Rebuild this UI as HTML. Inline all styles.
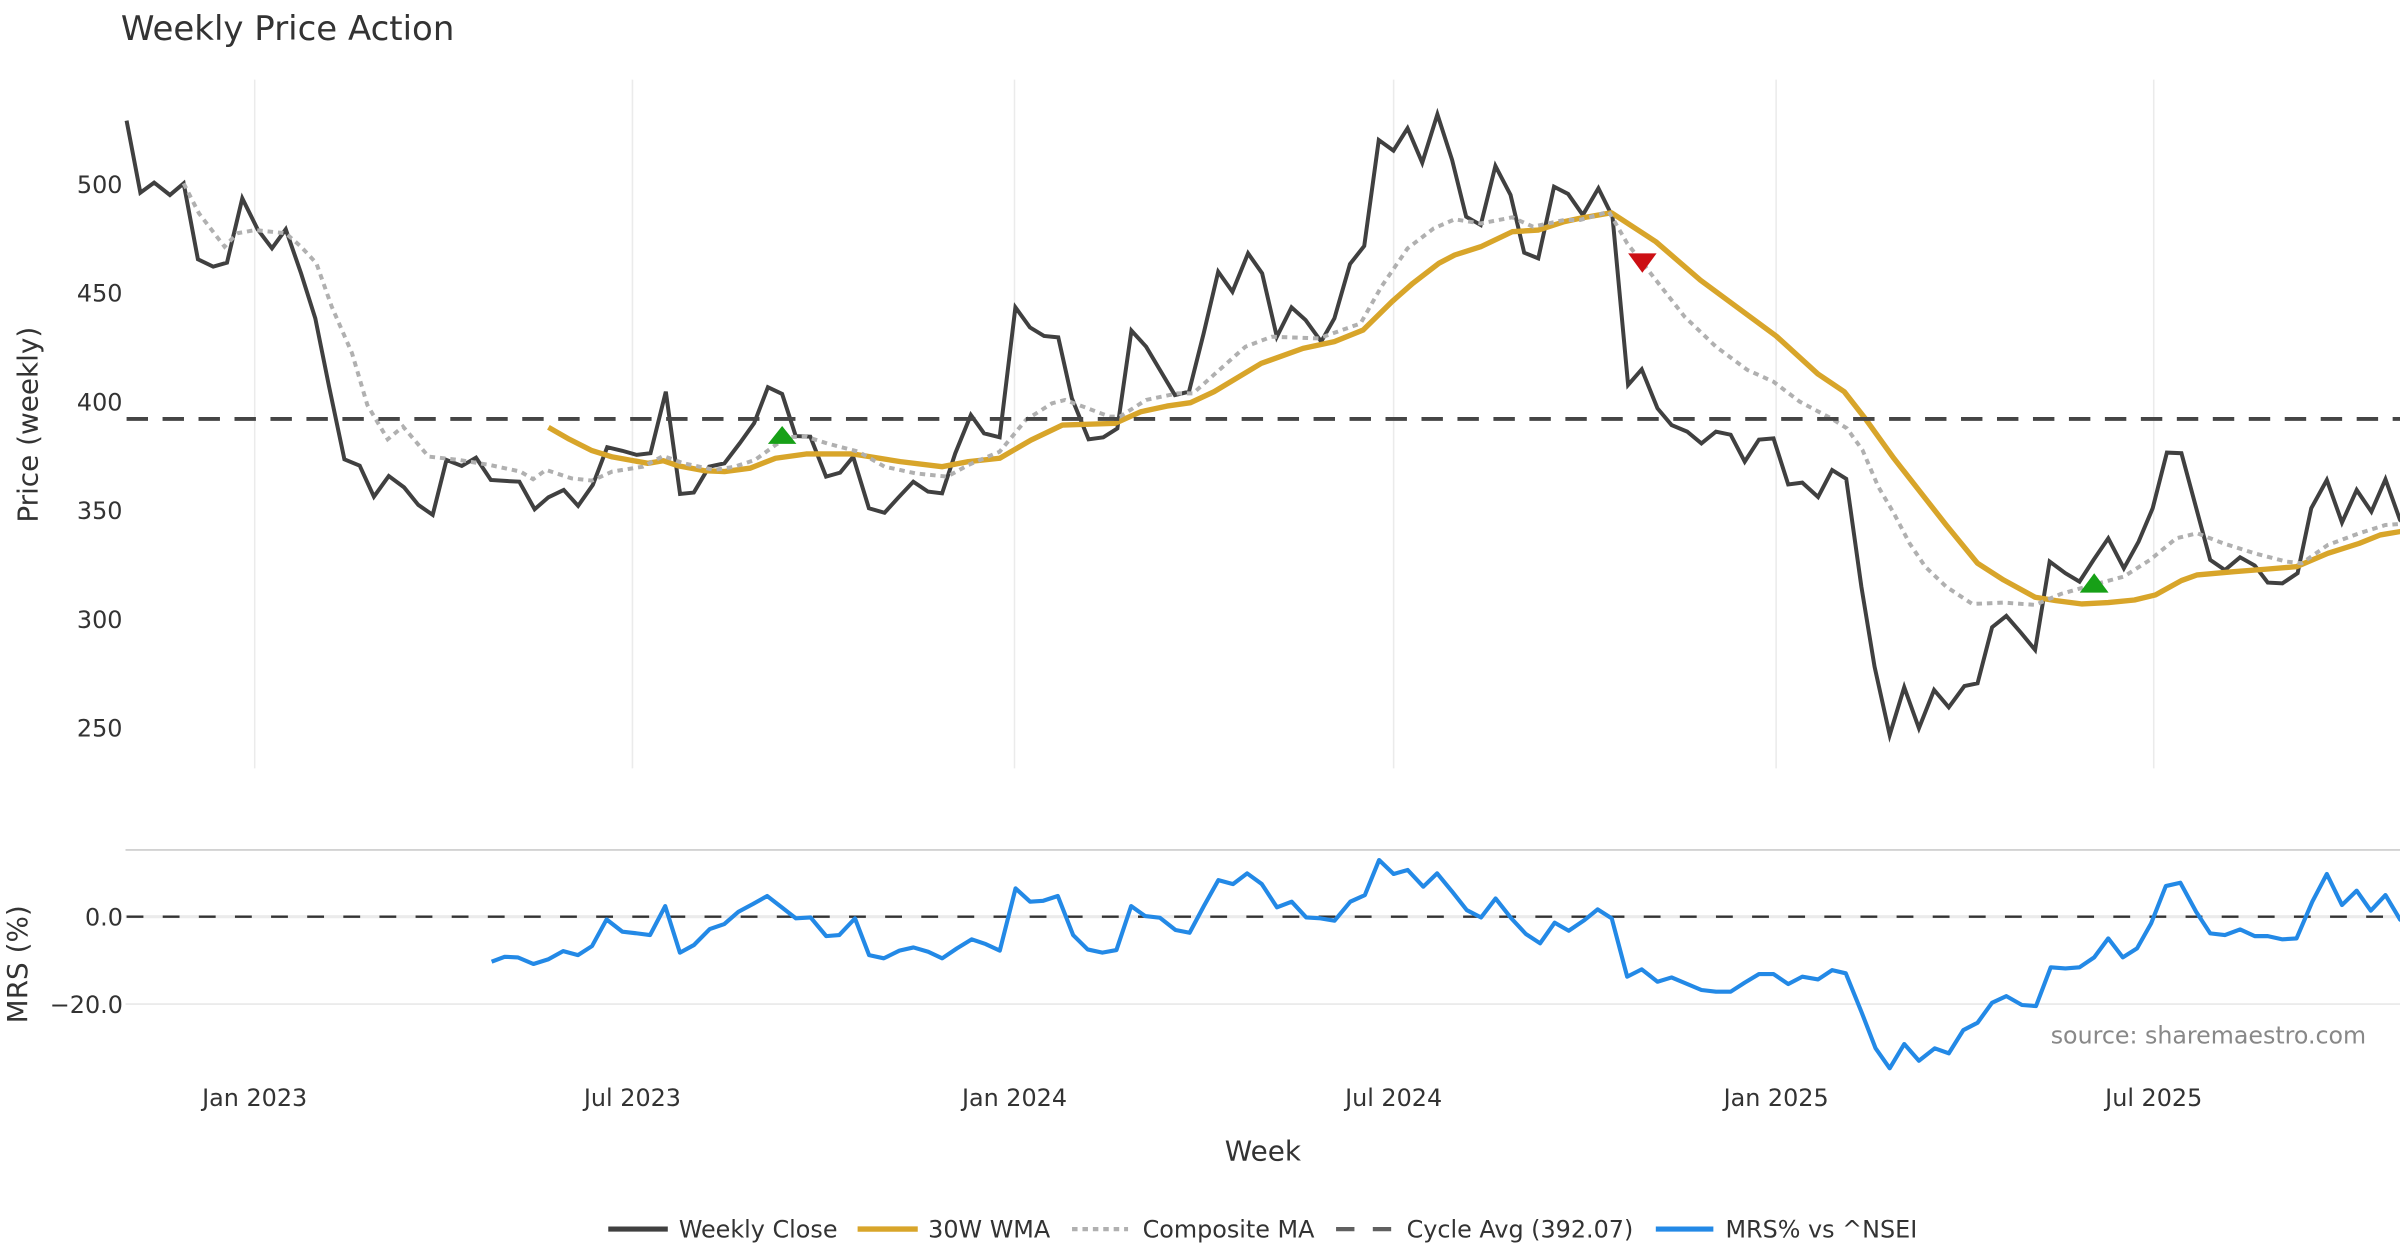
<!DOCTYPE html>
<html><head><meta charset="utf-8"><style>html,body{margin:0;padding:0;background:#fff;}svg{display:block}</style></head>
<body>
<svg width="2400" height="1260" viewBox="0 0 1568 823.2" xmlns="http://www.w3.org/2000/svg" font-family="'DejaVu Sans','Liberation Sans',sans-serif">
<rect x="0" y="0" width="1568" height="823.2" fill="#fff"/>
<!-- title -->
<text x="79" y="26.1" font-size="22.2" fill="#333">Weekly Price Action</text>
<!-- upper grid -->
<g stroke="#ebebeb" stroke-width="1">
<line x1="166.4" y1="52" x2="166.4" y2="502"/>
<line x1="413.2" y1="52" x2="413.2" y2="502"/>
<line x1="662.8" y1="52" x2="662.8" y2="502"/>
<line x1="910.5" y1="52" x2="910.5" y2="502"/>
<line x1="1160.4" y1="52" x2="1160.4" y2="502"/>
<line x1="1407.1" y1="52" x2="1407.1" y2="502"/>
</g>
<!-- y ticks upper -->
<g font-size="15.6" fill="#333" text-anchor="end">
<text x="80" y="126.1">500</text>
<text x="80" y="197.1">450</text>
<text x="80" y="268.1">400</text>
<text x="80" y="339.2">350</text>
<text x="80" y="410.2">300</text>
<text x="80" y="481.2">250</text>
</g>
<text transform="translate(24.5,277.5) rotate(-90)" font-size="18.2" fill="#333" text-anchor="middle">Price (weekly)</text>

<!-- Weekly close -->
<polyline fill="none" stroke="#404040" stroke-width="2.6" stroke-linejoin="miter" points="82.7,78.8 91.7,125.9 100.7,119.3 111,127.4 120,119.8 129.3,169.4 139.3,174.2 148.3,171.6 158.3,129.6 168.3,149.8 177.7,162.2 186.7,149.8 196.7,178.6 206,208 215,252.6 225,300.1 235,304.2 244.3,324.5 254,311 264,318.4 273.3,329.9 282.7,336.4 291.7,300.5 301.7,304.4 311,299 320.7,313.6 330,314.2 339.3,314.7 349.3,332.7 358.3,324.9 368.3,320.1 377.7,330.5 387.3,316.8 396.7,292.2 406.5,294.5 416,297.2 425,296.1 435,255.9 444.3,322.7 453.3,321.8 463.3,304.9 473.3,302.7 483.3,289.6 492.7,276.5 501.7,253 511,257.4 519.9,284.9 529.4,285.3 539.7,311.4 548.9,308.8 557.4,298.4 567.7,332.1 577.9,335 587,325 596.7,314.7 606.3,321.2 615.5,322.3 624.1,296.2 634.3,271.1 642.9,283.1 653.1,285.7 663.4,200.8 672.9,213.9 682.1,219.5 691.4,220.4 700.3,260.2 711.2,287 720.8,285.7 730,279.9 739.2,216 748.8,226.5 758,242 767.6,258.1 776.8,255.9 786.4,217.8 795.9,177.5 805.2,190.6 815.4,165.5 824.6,178.6 834.2,220 843.8,200.8 853,209.1 863.2,223.2 871.8,208 882,172.5 891.3,160.7 900.8,91.5 910.4,98.4 919.6,83.8 929.2,106.3 939.1,74.7 948.7,104.5 957.9,141.6 967.4,147 977,108.4 986.9,127.4 995.8,165.1 1005,168.8 1015.3,122 1024.5,126.7 1034.1,140.5 1044.3,123 1053.5,141.6 1063.7,251.5 1072.6,241.3 1082.9,266.8 1092.1,277.7 1102.3,282 1111.6,289.7 1121.1,282 1130.7,284 1139.9,301.6 1149.2,287.2 1158.7,286.4 1168.3,316.5 1177.5,315.3 1187.8,324.7 1197,307.1 1206.2,312.8 1216.1,383.3 1224.7,435.5 1234.6,480.2 1244.1,449 1253.7,475.8 1263.6,450.8 1273.2,462.1 1283.4,448.2 1292,446.4 1301.5,409.8 1310.8,402.4 1320.3,413.3 1329.6,424.6 1339.1,366.9 1349.4,374.5 1358.6,380 1367.8,365.8 1377.4,351.7 1387.6,371.3 1397.2,353.9 1406.4,332.1 1415.7,295.7 1425.2,296.1 1435.5,334.3 1444,365.8 1453.6,372.4 1463.5,364.1 1473.1,369.5 1481.6,380.6 1491.2,381.1 1501.1,374.5 1510,332.1 1520.2,313.6 1530.1,341.4 1539.7,320.1 1549.3,334.3 1558.5,313.1 1568,339.7 1575,345"/>

<!-- 30W WMA -->
<polyline fill="none" stroke="#d8a52a" stroke-width="3.5" stroke-linejoin="round" points="358.3,279.2 372,287 386.7,294.4 400,298.5 423.3,302.7 433.3,301 443.3,304.4 460,307.5 473.3,308.1 490,305.9 506.7,299.4 526.7,296.6 557.4,296.6 588.2,301.6 615.5,304.9 632.6,301.6 653.1,299.4 673.6,287.5 694.1,277.7 728.3,276.6 745.4,269 762.4,265.3 777.8,263.1 793.2,255.9 824,237.4 851.3,227.6 871.8,223.2 890.6,215.6 909.4,197.1 923,185.1 940.1,172 950.4,166.6 967.4,161.2 988,151.4 1005,150.3 1022.1,144.8 1032.3,142.6 1052.8,139 1081.8,157.9 1110.9,183 1160.4,219.5 1187.8,244.4 1204.9,255.9 1218.5,273.3 1237.3,299.4 1254.4,321.2 1271.5,343 1292,368 1309,378.9 1329.6,390.2 1343.2,392.4 1360.3,394.6 1377.4,393.7 1394.5,392 1408.2,388.7 1425.2,379.3 1435.5,375.6 1459.4,373.5 1479.9,371.9 1500.4,370.2 1520.9,361.5 1541.4,355 1555.1,349.5 1568,347.3 1575,346"/>

<!-- Composite MA -->
<polyline fill="none" stroke="#b0b0b0" stroke-width="2.6" stroke-dasharray="3.6 3.2" points="120,119.8 130,139.4 146.7,161.2 155,152.4 166.7,150.3 186.7,152.4 196.7,161.2 206.7,172 216.7,200.3 230,230.8 240,264.6 253.3,287 263.3,278.7 280,298.3 300,300.5 320,303.8 340,308.1 348.3,313.1 356.7,307 373.3,312.5 386.7,314 400,308.1 420,304.9 433.3,297.9 446.7,302.7 466.7,307 480,304.9 493.3,300.5 506.7,290.7 515,285.5 526.7,285.3 540.4,289.7 560.9,295.1 577.9,304.9 598.4,309.3 618.9,311.4 632.6,303.8 653.1,295.1 670.2,274.4 687.3,263.5 695.8,261.3 707.8,265.7 724.9,272.2 731.7,272.2 748.8,261.3 769.3,257 779.5,257 796.6,241.7 813.7,226.5 830.8,220 861.5,221.1 888.9,211.3 902.5,187.3 919.6,162.3 936.7,149.2 950.4,143.3 967.4,146 988,142 1001.6,148.1 1022.1,143.7 1032.3,143.7 1051.1,138.3 1063.1,159 1076.7,176.4 1100.6,206.9 1121.1,226.5 1141.6,241.7 1158.7,249.4 1175.8,262.4 1196.3,273.3 1206.6,279.8 1216.8,294 1227.1,317.9 1237.3,335.3 1247.6,355 1257.8,370.2 1271.5,383.3 1288.6,394.6 1309,393.7 1329.6,395.2 1346.6,388 1367.1,382.2 1387.6,376.7 1404.7,365.8 1421.8,351.7 1435.5,348.4 1452.6,355 1473.1,361.5 1493.6,366.9 1503.8,368 1520.9,356 1541.4,348.4 1558.5,343 1568,342.3"/>

<!-- Cycle avg -->
<line x1="82.7" y1="273.7" x2="1568" y2="273.7" stroke="#454545" stroke-width="2.6" stroke-dasharray="14 9.5"/>

<!-- markers -->
<polygon points="511,278.3 520.3,290 501.7,290" fill="#17a017"/>
<polygon points="1368.2,374.5 1377.6,387.2 1358.8,387.2" fill="#17a017"/>
<polygon points="1063.7,165.5 1082.3,165.5 1073,178.2" fill="#cc0f14"/>

<!-- lower panel -->
<line x1="82" y1="555.3" x2="1568" y2="555.3" stroke="#cccccc" stroke-width="1"/>
<line x1="82" y1="598.9" x2="1568" y2="598.9" stroke="#ebebeb" stroke-width="2"/>
<line x1="82" y1="656" x2="1568" y2="656" stroke="#ebebeb" stroke-width="1.2"/>
<line x1="82.7" y1="598.9" x2="1568" y2="598.9" stroke="#333" stroke-width="1.5" stroke-dasharray="11 12.6"/>
<g font-size="15.6" fill="#333" text-anchor="end">
<text x="80.3" y="604.6">0.0</text>
<text x="80.3" y="661.7">−20.0</text>
</g>
<text transform="translate(17.5,630) rotate(-90)" font-size="18.2" fill="#333" text-anchor="middle">MRS (%)</text>

<polyline fill="none" stroke="#2389e6" stroke-width="2.7" stroke-linejoin="round" points="321.2,628.3 329.7,625.1 338.3,625.5 348.5,629.8 358.1,626.8 368,621.4 377.6,624 386.8,618.1 396.3,600.7 406.6,608.7 416.2,609.8 424.7,610.9 434.6,592 444.2,622.4 453.4,617.4 463.7,607 473.2,603.7 482.4,595.7 492,590.6 501.2,585.4 510.8,592.8 520,600 529.6,599.4 539.8,611.6 548.3,610.9 558.6,600 567.8,624 577.4,626.1 587.6,621.1 596.8,619 606.4,621.8 615.6,626.1 625.2,619.6 634.8,613.7 644,616.8 653.2,621.1 663.5,580.4 673,589.1 681.6,588.5 691.1,585.4 701.1,610.9 710.6,620.3 720.2,622.4 729.4,620.7 739,592 748.2,598.5 757.8,599.6 768,607.6 777.2,609.4 786.5,592 796,575 805.6,577.6 814.8,570.6 824.4,577.6 834.3,592.8 843.9,589.1 853.4,599.4 862.7,600 871.9,601.5 882.2,589.1 891.7,584.8 901,561.9 910.5,571 919.7,568.4 929.9,579.3 938.9,570.6 948.8,582.6 958.3,594.6 967.6,599.4 977.1,587 987.4,600 996.9,610.2 1006.2,616.3 1015.7,602.8 1024.9,608.1 1035.2,601.1 1043.8,594.1 1053,600 1063.1,638.1 1072.6,633.3 1082.9,641.4 1092.1,638.6 1102.3,642.9 1111.6,646.8 1121.1,647.9 1130.7,647.9 1139.9,642 1149.2,636.4 1158.7,636.4 1168.3,642.9 1177.5,638.1 1187.8,639.9 1197,633.8 1205.9,635.9 1216.1,661 1225.4,684.9 1234.6,698 1244.1,682.1 1253.7,693 1264,684.9 1273.2,688.2 1282.7,673 1292,668.2 1301.5,655.1 1310.8,650.8 1321,656.6 1330.2,657.3 1339.8,632 1349.4,632.7 1358.6,632 1368.2,625.5 1377.4,613.1 1386.9,625.5 1396.2,619.6 1405.4,603.3 1415,578.9 1424.5,576.7 1434.8,595.7 1444,609.8 1453.6,610.9 1463.5,607.2 1473.1,611.6 1481.6,611.6 1491.2,613.7 1500.4,613.1 1510.7,589.1 1520.2,571 1530.1,591.3 1539.7,581.9 1548.9,595 1558.5,584.8 1568,600.7 1575,606"/>

<text x="1545.9" y="681.7" font-size="15.5" fill="#888" text-anchor="end">source: sharemaestro.com</text>

<!-- x tick labels -->
<g font-size="15.6" fill="#333" text-anchor="middle">
<text x="166.4" y="722.6">Jan 2023</text>
<text x="413.2" y="722.6">Jul 2023</text>
<text x="662.8" y="722.6">Jan 2024</text>
<text x="910.5" y="722.6">Jul 2024</text>
<text x="1160.4" y="722.6">Jan 2025</text>
<text x="1407.1" y="722.6">Jul 2025</text>
</g>
<text x="825.1" y="758.3" font-size="18.2" fill="#333" text-anchor="middle">Week</text>

<!-- legend -->
<line x1="397.4" y1="803" x2="436.3" y2="803" stroke="#404040" stroke-width="3.3"/>
<text x="443.5" y="808.6" font-size="15.6" fill="#333">Weekly Close</text>
<line x1="560.3" y1="803" x2="599.6" y2="803" stroke="#d8a52a" stroke-width="3.5"/>
<text x="606.4" y="808.6" font-size="15.6" fill="#333">30W WMA</text>
<line x1="700.4" y1="803" x2="737" y2="803" stroke="#b0b0b0" stroke-width="2.8" stroke-dasharray="3.6 3.2"/>
<text x="746.5" y="808.6" font-size="15.6" fill="#333">Composite MA</text>
<line x1="872.9" y1="803" x2="909" y2="803" stroke="#606060" stroke-width="2.8" stroke-dasharray="12 12"/>
<text x="919" y="808.6" font-size="15.6" fill="#333">Cycle Avg (392.07)</text>
<line x1="1081.8" y1="803" x2="1119.4" y2="803" stroke="#2389e6" stroke-width="3.3"/>
<text x="1127.3" y="808.6" font-size="15.6" fill="#333">MRS% vs ^NSEI</text>
</svg>
</body></html>
